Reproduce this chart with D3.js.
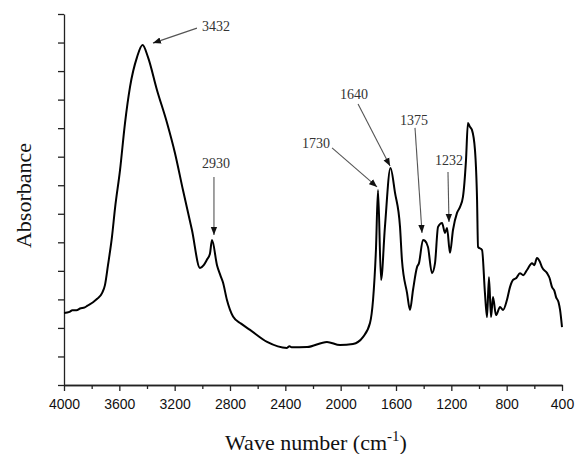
<!DOCTYPE html>
<html>
<head>
<meta charset="utf-8">
<script src="https://cdn.jsdelivr.net/npm/d3@7"></script>
<style>
  body { margin: 0; background: #fff; }
  svg { display: block; }
  .ann { font-family: "Liberation Serif", "Times New Roman", serif; font-size: 14px; fill: #333; }
  .title { font-family: "Liberation Serif", "Times New Roman", serif; font-size: 22px; fill: #111; }
</style>
</head>
<body>
<div id="chart"></div>
<script>
// spectrum: wave number (cm-1) and absorbance (arbitrary units)
var waveNumber = [4000, 3960, 3940, 3910, 3884, 3850, 3830, 3790, 3760, 3725, 3704, 3682, 3653, 3631, 3595, 3559, 3523, 3472, 3432,
  3393, 3328, 3255, 3198, 3140, 3075, 3017, 2990, 2966, 2945, 2930, 2894, 2870, 2851, 2822, 2778, 2720, 2655, 2532,
  2388, 2370, 2355, 2243, 2099, 2005, 1911, 1839, 1788, 1766, 1745, 1730, 1708, 1680, 1640, 1607,
  1571, 1557, 1520, 1499, 1477, 1448, 1434, 1405, 1390, 1369, 1340, 1318, 1296, 1267, 1246, 1231,
  1210, 1188, 1159, 1137, 1116, 1094, 1080, 1066, 1051, 1029, 1014, 1007, 978, 957, 942, 928,
  913, 899, 877, 848, 826, 798, 776, 754, 730, 704, 680, 653, 617, 600, 581, 560, 545, 508,
  490, 472, 455, 443, 425, 414, 400];
var absorbance = [0.252, 0.256, 0.262, 0.262, 0.268, 0.272, 0.278, 0.290, 0.302, 0.322, 0.350, 0.420, 0.520, 0.620, 0.753, 0.918, 1.044, 1.149, 1.191,
  1.149, 1.034, 0.918, 0.813, 0.683, 0.543, 0.410, 0.420, 0.440, 0.460, 0.508, 0.420, 0.385, 0.360, 0.298, 0.240, 0.215, 0.193, 0.151,
  0.130, 0.136, 0.132, 0.133, 0.151, 0.140, 0.144, 0.168, 0.217, 0.298, 0.473, 0.683, 0.368, 0.554, 0.760, 0.673,
  0.554, 0.438, 0.322, 0.263, 0.333, 0.413, 0.427, 0.508, 0.505, 0.484, 0.392, 0.427, 0.554, 0.568, 0.533, 0.550,
  0.463, 0.543, 0.603, 0.624, 0.659, 0.788, 0.918, 0.905, 0.894, 0.823, 0.648, 0.484, 0.473, 0.322, 0.238, 0.378,
  0.238, 0.308, 0.245, 0.273, 0.263, 0.298, 0.343, 0.368, 0.375, 0.392, 0.385, 0.403, 0.427, 0.420, 0.445, 0.432, 0.413, 0.392,
  0.375, 0.343, 0.330, 0.308, 0.290, 0.263, 0.203];

var xTicks = [4000, 3600, 3200, 2800, 2400, 2000, 1600, 1200, 800, 400];
var xMinorTicks = [3800, 3400, 3000, 2600, 2200, 1800, 1400, 1000, 600];
var yTicks = [0, 0.1, 0.2, 0.3, 0.4, 0.5, 0.6, 0.7, 0.8, 0.9, 1.0, 1.1, 1.2, 1.3];

// peak annotations: label, and where the arrow points (wave number, absorbance)
var annText = ["3432", "2930", "1730", "1640", "1375", "1232"];
var annWn = [3357, 2916, 1737, 1643, 1412, 1217];
var annAbs = [1.198, 0.526, 0.694, 0.767, 0.533, 0.571];

// label and arrow-tail offsets from the arrow tip, in pixels
var annLayout = [
  {tx: 49, ty: -12, anchor: "start", ax: 44, ay: -15},
  {tx: 2, ty: -67, anchor: "middle", ax: 0, ay: -58},
  {tx: -61, ty: -39, anchor: "middle", ax: -45, ay: -39},
  {tx: -36, ty: -67, anchor: "middle", ax: -32, ay: -62},
  {tx: -8, ty: -108, anchor: "middle", ax: -7, ay: -105},
  {tx: 0, ty: -57, anchor: "middle", ax: -1, ay: -50}
];

var width = 576, height = 454;
var mLeft = 64, mRight = 562, mTop = 14, mBottom = 385;

var svg = d3.select("#chart").append("svg")
  .attr("width", width)
  .attr("height", height);

var x = d3.scaleLinear().domain([4000, 400]).range([mLeft, mRight]);
var y = d3.scaleLinear().domain([0, 1.3]).range([mBottom, mTop]);

// axes
var xAxis = svg.append("g")
  .attr("transform", "translate(0," + mBottom + ")")
  .call(d3.axisBottom(x).tickValues(xTicks).tickFormat(d3.format("d")).tickSize(6).tickSizeOuter(0));
xAxis.selectAll(".tick text")
  .attr("dy", "1.1em")
  .attr("font-family", "'Liberation Sans', Arial, sans-serif")
  .attr("font-size", 14)
  .attr("fill", "#111");

svg.append("g")
  .attr("transform", "translate(0," + mBottom + ")")
  .call(d3.axisBottom(x).tickValues(xMinorTicks).tickFormat("").tickSize(4).tickSizeOuter(0));

svg.append("g")
  .attr("transform", "translate(" + mLeft + ",0)")
  .call(d3.axisLeft(y).tickValues(yTicks).tickFormat("").tickSize(6).tickSizeOuter(0));

svg.selectAll(".domain, .tick line").attr("stroke", "#222").attr("stroke-width", 1.3);

// spectrum
var points = waveNumber.map(function(d, i) { return [d, absorbance[i]]; });
var line = d3.line()
  .x(function(d) { return x(d[0]); })
  .y(function(d) { return y(d[1]); })
  .curve(d3.curveMonotoneX);

svg.append("path")
  .datum(points)
  .attr("fill", "none")
  .attr("stroke", "#000")
  .attr("stroke-width", 2)
  .attr("stroke-linejoin", "round")
  .attr("d", line);

// arrows
svg.append("defs").append("marker")
  .attr("id", "head")
  .attr("viewBox", "0 0 10 10")
  .attr("refX", 10).attr("refY", 5)
  .attr("markerWidth", 8).attr("markerHeight", 8)
  .attr("markerUnits", "userSpaceOnUse")
  .attr("orient", "auto")
  .append("path")
  .attr("d", "M0,1 L10,5 L0,9 Z")
  .attr("fill", "#111");

annText.forEach(function(t, i) {
  var px = x(annWn[i]), py = y(annAbs[i]), L = annLayout[i];
  svg.append("line")
    .attr("x1", px + L.ax).attr("y1", py + L.ay)
    .attr("x2", px).attr("y2", py)
    .attr("stroke", "#555")
    .attr("stroke-width", 1.1)
    .attr("marker-end", "url(#head)");
  svg.append("text")
    .attr("class", "ann")
    .attr("x", px + L.tx).attr("y", py + L.ty)
    .attr("text-anchor", L.anchor)
    .text(t);
});

// axis titles
var xt = svg.append("text")
  .attr("class", "title")
  .attr("x", (mLeft + mRight) / 2 + 3)
  .attr("y", 450)
  .attr("text-anchor", "middle");
xt.append("tspan").text("Wave number (cm");
xt.append("tspan").attr("dy", -9).attr("font-size", "15px").text("-1");
xt.append("tspan").attr("dy", 9).text(")");

svg.append("text")
  .attr("class", "title")
  .attr("transform", "translate(31," + ((mTop + mBottom) / 2 - 4) + ") rotate(-90)")
  .attr("text-anchor", "middle")
  .text("Absorbance");
</script>
</body>
</html>
